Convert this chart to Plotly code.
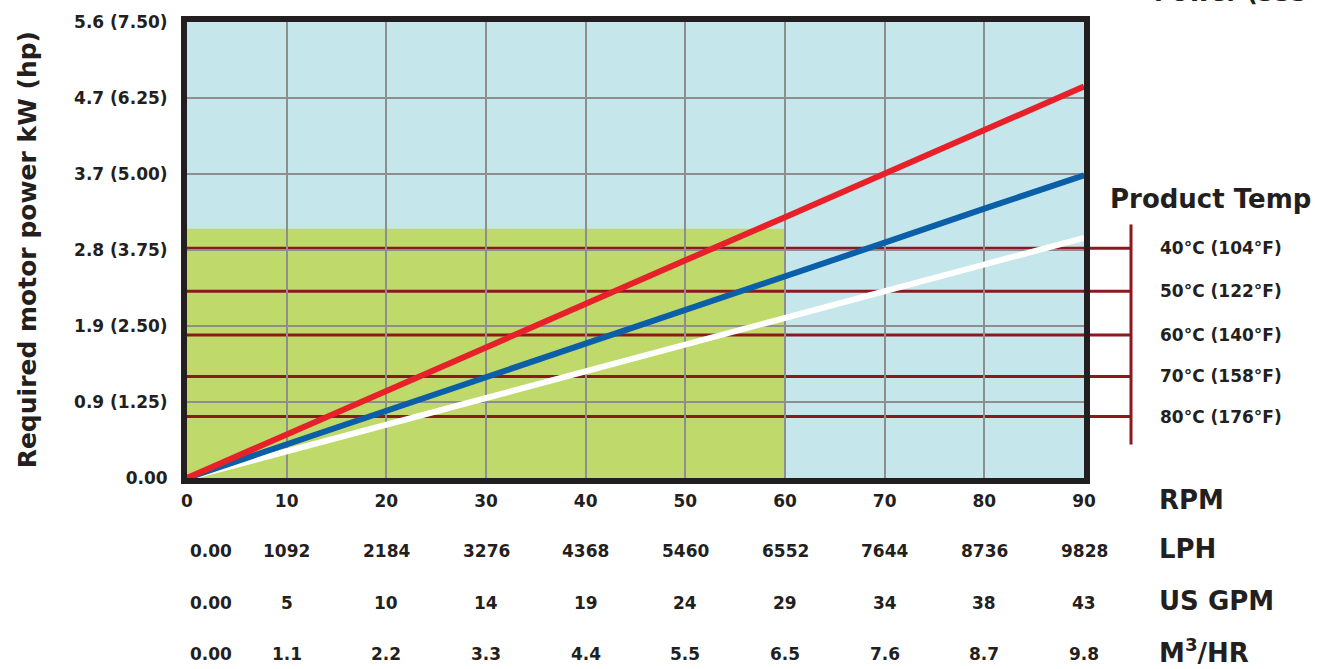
import plotly.graph_objects as go

# ---------------- data ----------------
rpm = [0, 10, 20, 30, 40, 50, 60, 70, 80, 90]
lph = ["0.00", "1092", "2184", "3276", "4368", "5460", "6552", "7644", "8736", "9828"]
us_gpm = ["0.00", "5", "10", "14", "19", "24", "29", "34", "38", "43"]
m3_hr = ["0.00", "1.1", "2.2", "3.3", "4.4", "5.5", "6.5", "7.6", "8.7", "9.8"]

# required motor power (hp) at each rpm
power_red = [0, 0.72, 1.43, 2.15, 2.86, 3.58, 4.29, 5.01, 5.72, 6.44]
power_blue = [0, 0.55, 1.11, 1.66, 2.21, 2.77, 3.32, 3.87, 4.43, 4.98]
power_white = [0, 0.44, 0.88, 1.32, 1.76, 2.19, 2.63, 3.07, 3.51, 3.95]

y_tickvals = [0, 1.25, 2.5, 3.75, 5.0, 6.25, 7.5]
y_ticktext = ["0.00", "0.9 (1.25)", "1.9 (2.50)", "2.8 (3.75)", "3.7 (5.00)", "4.7 (6.25)", "5.6 (7.50)"]

temp_labels = ["40°C (104°F)", "50°C (122°F)", "60°C (140°F)", "70°C (158°F)", "80°C (176°F)"]
temp_levels = [3.78, 3.07, 2.35, 1.67, 1.01]

safe_rpm = 60
safe_power = 4.1
x_max = 90
y_max = 7.5

# ---------------- style ----------------
FONT = "DejaVu Sans, Verdana, sans-serif"
INK = "#231F20"
BLUE_BG = "#C5E6EB"
GREEN = "#BFD96B"
DARKRED = "#8B1A1F"
GRID = "#8E8E8E"

fig = go.Figure()

fig.add_trace(go.Scatter(x=rpm, y=power_white, mode="lines",
                         line=dict(color="#FFFFFF", width=6), showlegend=False, hoverinfo="skip"))
fig.add_trace(go.Scatter(x=rpm, y=power_blue, mode="lines",
                         line=dict(color="#0B5EA8", width=6), showlegend=False, hoverinfo="skip"))
fig.add_trace(go.Scatter(x=rpm, y=power_red, mode="lines",
                         line=dict(color="#E8202A", width=6), showlegend=False, hoverinfo="skip"))

shapes = []
# light blue background
shapes.append(dict(type="rect", xref="paper", yref="paper", x0=0, x1=1, y0=0, y1=1,
                   fillcolor=BLUE_BG, line=dict(width=0), layer="below"))
# green operating zone
shapes.append(dict(type="rect", xref="paper", yref="y", x0=0, x1=safe_rpm / x_max, y0=0, y1=safe_power,
                   fillcolor=GREEN, line=dict(width=0), layer="below"))
# temperature lines extending to the bracket
x_bracket = 1.0524
for lv in temp_levels:
    shapes.append(dict(type="line", xref="paper", yref="y", x0=0, x1=x_bracket, y0=lv, y1=lv,
                       line=dict(color=DARKRED, width=3), layer="below"))
shapes.append(dict(type="line", xref="paper", yref="y", x0=x_bracket, x1=x_bracket, y0=0.55, y1=4.17,
                   line=dict(color=DARKRED, width=3), layer="below"))

annotations = []
row_y = {"LPH": -0.1610, "US GPM": -0.2740, "M3": -0.3870}
for rowname, vals in (("LPH", lph), ("US GPM", us_gpm), ("M3", m3_hr)):
    for i, (xv, txt) in enumerate(zip(rpm, vals)):
        annotations.append(dict(x=xv, y=row_y[rowname], xref="x", yref="paper", text=txt,
                                showarrow=False, xanchor="left" if i == 0 else "center",
                                yanchor="middle", xshift=1 if i == 0 else 0,
                                font=dict(family=FONT, size=17, color=INK, weight="bold")))

unit_x = 1.0815
for txt, yy in (("RPM", -0.0477), ("LPH", -0.1560), ("US GPM", -0.2690), ("M<sup>3</sup>/HR", -0.3800)):
    annotations.append(dict(x=unit_x, y=yy, xref="paper", yref="paper", text=txt, showarrow=False,
                            xanchor="left", yanchor="middle",
                            font=dict(family=FONT, size=26, color=INK, weight="bold")))

annotations.append(dict(x=1.0268, y=0.611, xref="paper", yref="paper", text="Product Temp",
                        showarrow=False, xanchor="left", yanchor="middle",
                        font=dict(family=FONT, size=26, color=INK, weight="bold")))
for txt, lv in zip(temp_labels, temp_levels):
    annotations.append(dict(x=1.082, y=lv, xref="paper", yref="y", text=txt, showarrow=False,
                            xanchor="left", yanchor="middle",
                            font=dict(family=FONT, size=17, color=INK, weight="bold")))

annotations.append(dict(x=-0.178, y=0.50, xref="paper", yref="paper",
                        text="Required motor power kW (hp)", textangle=-90, showarrow=False,
                        xanchor="center", yanchor="middle",
                        font=dict(family=FONT, size=25, color=INK, weight="bold")))

# partially visible heading at the top edge (cut off in the original)
annotations.append(dict(x=1.252, y=1.029, xref="paper", yref="paper", text="Power (333",
                        showarrow=False, xanchor="right", yanchor="bottom",
                        font=dict(family=FONT, size=24, color=INK, weight="bold")))

fig.update_layout(
    width=1322, height=669,
    margin=dict(l=187, r=238, t=17, b=191, pad=0),
    paper_bgcolor="white", plot_bgcolor="rgba(0,0,0,0)",
    shapes=shapes, annotations=annotations, showlegend=False,
    xaxis=dict(range=[0, x_max], tickvals=rpm, ticktext=[str(v) for v in rpm],
               showgrid=True, gridcolor=GRID, gridwidth=1.5, zeroline=False,
               showline=True, linecolor=INK, linewidth=6, mirror=True, ticks="",
               ticklabelstandoff=3,
               tickfont=dict(family=FONT, size=17, color=INK, weight="bold")),
    yaxis=dict(range=[0, y_max], tickvals=y_tickvals, ticktext=y_ticktext,
               showgrid=True, gridcolor=GRID, gridwidth=1.5, zeroline=False,
               showline=True, linecolor=INK, linewidth=6, mirror=True, ticks="",
               ticklabelstandoff=10,
               tickfont=dict(family=FONT, size=17, color=INK, weight="bold")),
)

fig.write_html("out.html", config={"displayModeBar": False},
               post_script="document.body.style.margin='0';")
